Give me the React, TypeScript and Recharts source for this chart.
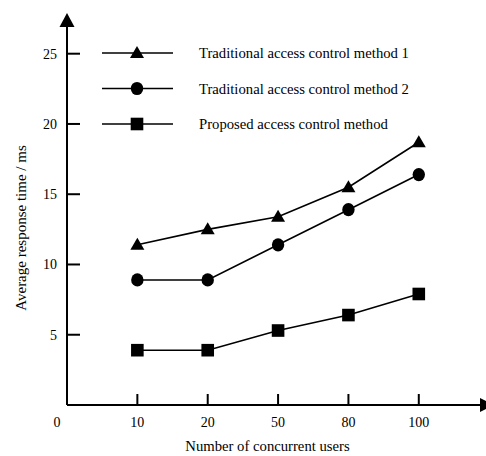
import React from 'react';
import { LineChart, Line, XAxis, YAxis, Legend, ReferenceDot } from 'recharts';

// number of concurrent users, shown as evenly spaced categories
const userLabels = ['0', '10', '20', '50', '80', '100'];
const userSlots = [1, 2, 3, 4, 5];

// average response time (ms)
const method1Times = [11.4, 12.5, 13.4, 15.5, 18.7];
const method2Times = [8.9, 8.9, 11.4, 13.9, 16.4];
const proposedTimes = [3.9, 3.9, 5.3, 6.4, 7.9];

const yTicks = [5, 10, 15, 20, 25];
const xTicks = [0, 1, 2, 3, 4, 5];

const seriesNames = [
    'Traditional access control method 1',
    'Traditional access control method 2',
    'Proposed access control method',
];

const chartData = userSlots.map((slot, i) => ({
    slot,
    m1: method1Times[i],
    m2: method2Times[i],
    proposed: proposedTimes[i],
}));

const FONT = '"Liberation Serif", "Times New Roman", serif';
const INK = '#000';

type Shape = 'triangle' | 'circle' | 'square';

const Marker = ({ cx, cy, shape }: { cx: number; cy: number; shape: Shape }) => {
    if (shape === 'triangle') {
        return <polygon points={`${cx},${cy - 7} ${cx - 7},${cy + 5} ${cx + 7},${cy + 5}`} fill={INK} />;
    }
    if (shape === 'circle') {
        return <ellipse cx={cx} cy={cy} rx={6.2} ry={6.6} fill={INK} />;
    }
    return <rect x={cx - 6.3} y={cy - 6.3} width={12.6} height={12.6} fill={INK} />;
};

const makeDot = (shape: Shape) => (props: any) => (
    <Marker key={`${shape}-${props.index}`} cx={props.cx} cy={props.cy} shape={shape} />
);

const YTick = (props: any) => {
    const { x, y, payload } = props;
    return (
        <g>
            <line x1={x} x2={x + 13} y1={y} y2={y} stroke={INK} strokeWidth={2} />
            <text x={x - 10} y={y} dy={5} textAnchor="end" fontSize={14} fontFamily={FONT} fill={INK}>
                {payload.value}
            </text>
        </g>
    );
};

const XTick = (props: any) => {
    const { x, y, payload } = props;
    const label = userLabels[payload.value];
    if (payload.value === 0) {
        return (
            <text x={x - 10} y={y + 22} textAnchor="middle" fontSize={14} fontFamily={FONT} fill={INK}>
                {label}
            </text>
        );
    }
    return (
        <g>
            <line x1={x} x2={x} y1={y} y2={y - 11} stroke={INK} strokeWidth={2} />
            <text x={x} y={y + 22} textAnchor="middle" fontSize={14} fontFamily={FONT} fill={INK}>
                {label}
            </text>
        </g>
    );
};

const XTitle = (props: any) => {
    const { viewBox } = props;
    return (
        <text x={viewBox.x + viewBox.width / 2 - 6} y={viewBox.y + 46} textAnchor="middle" fontSize={14.7} fontFamily={FONT} fill={INK}>
            Number of concurrent users
        </text>
    );
};

const YTitle = (props: any) => {
    const { viewBox } = props;
    const cx = viewBox.x + 26;
    const cy = viewBox.y + viewBox.height / 2 + 12;
    return (
        <text x={cx} y={cy} transform={`rotate(-90, ${cx}, ${cy})`} textAnchor="middle" fontSize={15} fontFamily={FONT} fill={INK}>
            Average response time / ms
        </text>
    );
};

const legendShapes: Shape[] = ['triangle', 'circle', 'square'];

const renderLegend = () => (
    <svg width={330} height={90}>
        {seriesNames.map((name, i) => {
            const rowY = 9 + i * 35.5;
            return (
                <g key={name}>
                    <line x1={0} x2={71} y1={rowY} y2={rowY} stroke={INK} strokeWidth={1.6} />
                    <Marker cx={35} cy={rowY} shape={legendShapes[i]} />
                    <text x={97} y={rowY + 5} fontSize={14.7} fontFamily={FONT} fill={INK}>
                        {name}
                    </text>
                </g>
            );
        })}
    </svg>
);

const XArrow = (props: any) => (
    <polygon points={`${props.cx},${props.cy - 7} ${props.cx + 14},${props.cy} ${props.cx},${props.cy + 7}`} fill={INK} />
);

const YArrow = (props: any) => (
    <polygon points={`${props.cx - 7.5},${props.cy} ${props.cx},${props.cy - 14} ${props.cx + 7.5},${props.cy}`} fill={INK} />
);

export default function App() {
    return (
        <div style={{ position: 'absolute', left: 0, top: 0, width: 486, height: 456, background: '#fff' }}>
            <LineChart
                width={486}
                height={456}
                data={chartData}
                margin={{ top: 27, right: 6, left: 0, bottom: 0 }}
            >
                <XAxis
                    type="number"
                    dataKey="slot"
                    domain={[0, 5.87]}
                    ticks={xTicks}
                    interval={0}
                    height={51}
                    tickSize={0}
                    tickMargin={0}
                    tickLine={false}
                    tick={<XTick />}
                    axisLine={{ stroke: INK, strokeWidth: 2 }}
                    allowDataOverflow
                    label={<XTitle />}
                />
                <YAxis
                    type="number"
                    domain={[0, 26.9]}
                    ticks={yTicks}
                    interval={0}
                    width={67}
                    tickSize={0}
                    tickMargin={0}
                    tickLine={false}
                    tick={<YTick />}
                    axisLine={{ stroke: INK, strokeWidth: 2 }}
                    allowDataOverflow
                    label={<YTitle />}
                />
                <Legend
                    layout="horizontal"
                    verticalAlign="middle"
                    align="center"
                    content={renderLegend}
                    wrapperStyle={{ left: 102, top: 44, width: 330, height: 90 }}
                />
                <Line
                    dataKey="m1"
                    name={seriesNames[0]}
                    stroke={INK}
                    strokeWidth={1.6}
                    dot={makeDot('triangle')}
                    activeDot={false}
                    isAnimationActive={false}
                />
                <Line
                    dataKey="m2"
                    name={seriesNames[1]}
                    stroke={INK}
                    strokeWidth={1.6}
                    dot={makeDot('circle')}
                    activeDot={false}
                    isAnimationActive={false}
                />
                <Line
                    dataKey="proposed"
                    name={seriesNames[2]}
                    stroke={INK}
                    strokeWidth={1.6}
                    dot={makeDot('square')}
                    activeDot={false}
                    isAnimationActive={false}
                />
                <ReferenceDot x={5.87} y={0} ifOverflow="visible" shape={<XArrow />} />
                <ReferenceDot x={0} y={26.9} ifOverflow="visible" shape={<YArrow />} />
            </LineChart>
        </div>
    );
}
